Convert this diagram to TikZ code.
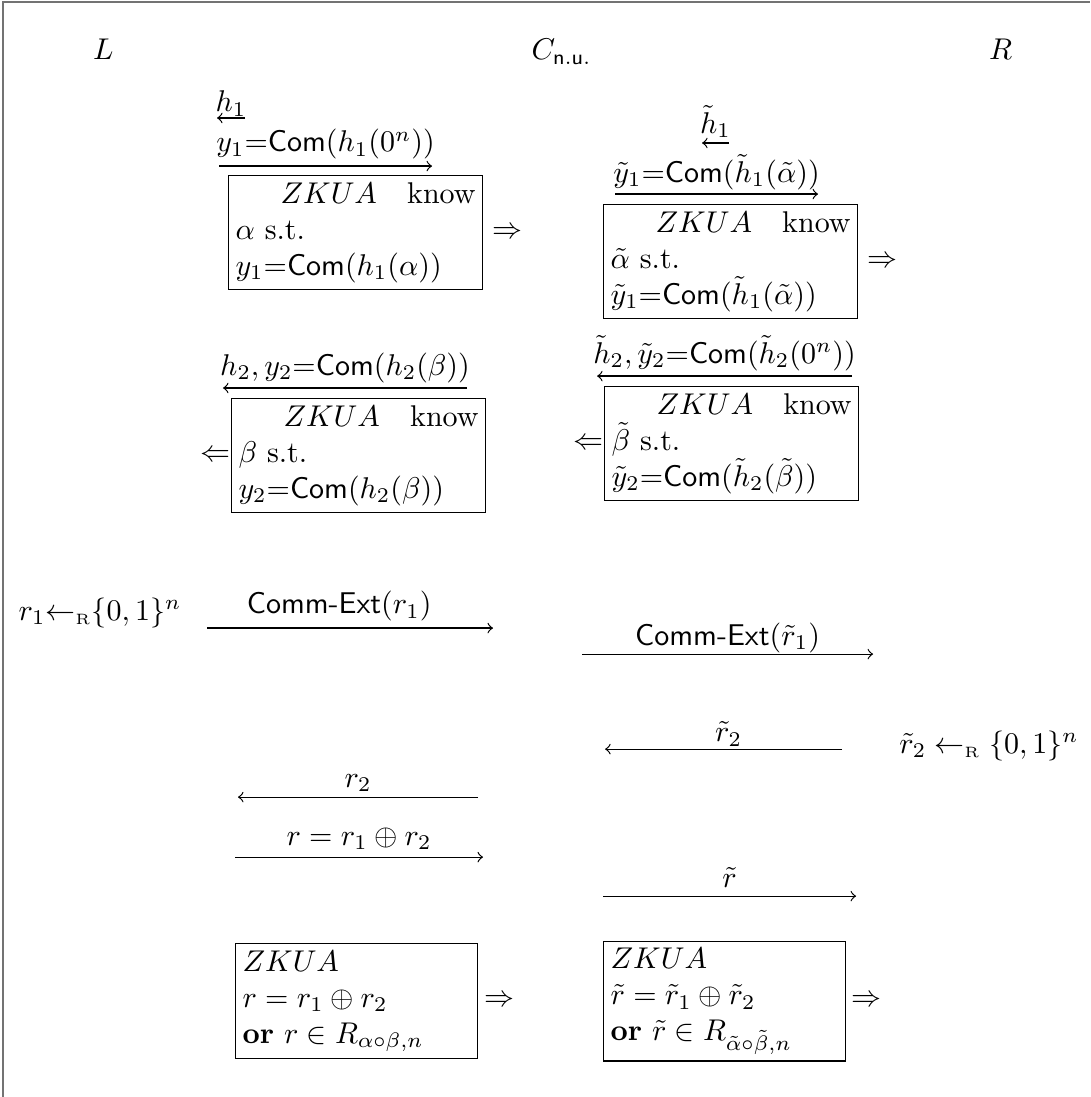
\documentclass[tikz,border=0pt]{standalone}
\usetikzlibrary{positioning}
\begin{document}
\begin{tikzpicture}[
	    zkbox/.style={draw, text width=80pt, inner sep=2.3pt, anchor=north west, align=justify},
	    zkend/.style={draw, text width=76pt, inner sep=2.3pt, anchor=west, align=left},
	    msg/.style={->},
	    lab/.style={midway, anchor=base},
	    imp/.style={inner sep=0pt}
	]
	    \useasboundingbox (0,0) rectangle (12.77,-12.85);
	    % Rahmen
	    \draw[black!55, line width=0.7pt] (0.04,-12.85) -- (0.04,-0.02) -- (12.77,-0.02);
	    
	    % Parteien
	    \node[anchor=base] (L) at (1.21,-0.70) {$L$};
	    \node[anchor=base] (C) at (6.58,-0.70) {$C_{\mathsf{n.u.}}$};
	    \node[anchor=base] (R) at (11.72,-0.70) {$R$};
	    
	    % Erste Runde
	    \coordinate (m1s) at (2.870,-1.382);
	    \coordinate (m1e) at (2.542,-1.382);
	    \draw[msg] (m1s) -- (m1e) node[lab, yshift=2pt] (m1) {$h_1$};
	    \coordinate (m2s) at (2.566,-1.945);
	    \coordinate (m2e) at (5.061,-1.945);
	    \draw[msg] (m2s) -- (m2e) node[lab, yshift=4.7pt] (m2) {$y_1{=}\mathsf{Com}(h_1(0^n))$};
	    \coordinate (m3s) at (8.540,-1.675);
	    \coordinate (m3e) at (8.224,-1.675);
	    \draw[msg] (m3s) -- (m3e) node[lab, yshift=3.3pt] (m3) {$\tilde h_1$};
	    \coordinate (m4s) at (7.205,-2.273);
	    \coordinate (m4e) at (9.583,-2.273);
	    \draw[msg] (m4s) -- (m4e) node[lab, yshift=4pt] (m4) {$\tilde y_1{=}\mathsf{Com}(\tilde h_1(\tilde\alpha))$};
	    
	    \node[zkbox] (zk1) at (2.671,-2.050) {\noindent\hspace*{15pt}$ZKUA$\hfill know\\ $\alpha$ s.t.\\ $y_1{=}\mathsf{Com}(h_1(\alpha))$};
	    \node[imp, right=3pt of zk1] (i1) {$\Rightarrow$};
	    \node[zkbox] (zk2) at (7.064,-2.390) {\noindent\hspace*{15pt}$ZKUA$\hfill know\\ $\tilde\alpha$ s.t.\\ $\tilde y_1{=}\mathsf{Com}(\tilde h_1(\tilde\alpha))$};
	    \node[imp, right=3pt of zk2] (i2) {$\Rightarrow$};
	    
	    % Zweite Runde
	    \coordinate (m5s) at (5.471,-4.545);
	    \coordinate (m5e) at (2.612,-4.545);
	    \draw[msg] (m5s) -- (m5e) node[lab, yshift=4.3pt] (m5) {$h_2, y_2{=}\mathsf{Com}(h_2(\beta))$};
	    \coordinate (m6s) at (9.981,-4.405);
	    \coordinate (m6e) at (6.994,-4.405);
	    \draw[msg] (m6s) -- (m6e) node[lab, yshift=4.3pt] (m6) {$\tilde h_2, \tilde y_2{=}\mathsf{Com}(\tilde h_2(0^n))$};
	    
	    \node[zkbox] (zk3) at (2.706,-4.663) {\noindent\hspace*{15pt}$ZKUA$\hfill know\\ $\beta$ s.t.\\ $y_2{=}\mathsf{Com}(h_2(\beta))$};
	    \node[imp, left=0pt of zk3] (i3) {$\Leftarrow$};
	    \node[zkbox] (zk4) at (7.076,-4.522) {\noindent\hspace*{15pt}$ZKUA$\hfill know\\ $\tilde\beta$ s.t.\\ $\tilde y_2{=}\mathsf{Com}(\tilde h_2(\tilde\beta))$};
	    \node[imp, left=0pt of zk4] (i4) {$\Leftarrow$};
	    
	    % Coin-Flipping
	    \node[anchor=base] (r1) at (1.172,-7.263) {$r_1{\leftarrow_{\scriptscriptstyle\mathrm{R}}}\{0,1\}^n$};
	    \coordinate (m7s) at (2.425,-7.357);
	    \coordinate (m7e) at (5.775,-7.357);
	    \draw[msg] (m7s) -- (m7e) node[lab, yshift=4.8pt, xshift=-3.6pt] (m7) {\textsf{Comm-Ext}$(r_1)$};
	    \coordinate (m8s) at (6.818,-7.662);
	    \coordinate (m8e) at (10.227,-7.662);
	    \draw[msg] (m8s) -- (m8e) node[lab, yshift=3pt] (m8) {\textsf{Comm-Ext}$(\tilde r_1)$};
	    \node[anchor=base] (r2t) at (11.586,-8.825) {$\tilde r_2 \leftarrow_{\scriptscriptstyle\mathrm{R}} \{0,1\}^n$};
	    \coordinate (m9s) at (9.864,-8.775);
	    \coordinate (m9e) at (7.088,-8.775);
	    \draw[msg] (m9s) -- (m9e) node[lab, yshift=2.5pt, xshift=1.7pt] (m9) {$\tilde r_2$};
	    \coordinate (m10s) at (5.600,-9.337);
	    \coordinate (m10e) at (2.788,-9.337);
	    \draw[msg] (m10s) -- (m10e) node[lab, yshift=3.3pt] (m10) {$r_2$};
	    \coordinate (m11s) at (2.753,-10.040);
	    \coordinate (m11e) at (5.658,-10.040);
	    \draw[msg] (m11s) -- (m11e) node[lab, yshift=4pt] (m11) {$r = r_1 \oplus r_2$};
	    \coordinate (m12s) at (7.064,-10.497);
	    \coordinate (m12e) at (10.028,-10.497);
	    \draw[msg] (m12s) -- (m12e) node[lab, yshift=2.9pt] (m12) {$\tilde r$};
	    
	    % Abschluss
	    \node[zkend] (zk5) at (2.753,-11.727) {$ZKUA$\\ $r = r_1 \oplus r_2$\\ \textbf{or} $r \in R_{\alpha\circ\beta,n}$};
	    \node[imp, right=2pt of zk5] (i5) {$\Rightarrow$};
	    \node[zkend] (zk6) at (7.064,-11.727) {$ZKUA$\\ $\tilde r = \tilde r_1 \oplus \tilde r_2$\\ \textbf{or} $\tilde r \in R_{\tilde\alpha\circ\tilde\beta,n}$};
	    \node[imp, right=1.5pt of zk6] (i6) {$\Rightarrow$};
	\end{tikzpicture}
\end{document}
